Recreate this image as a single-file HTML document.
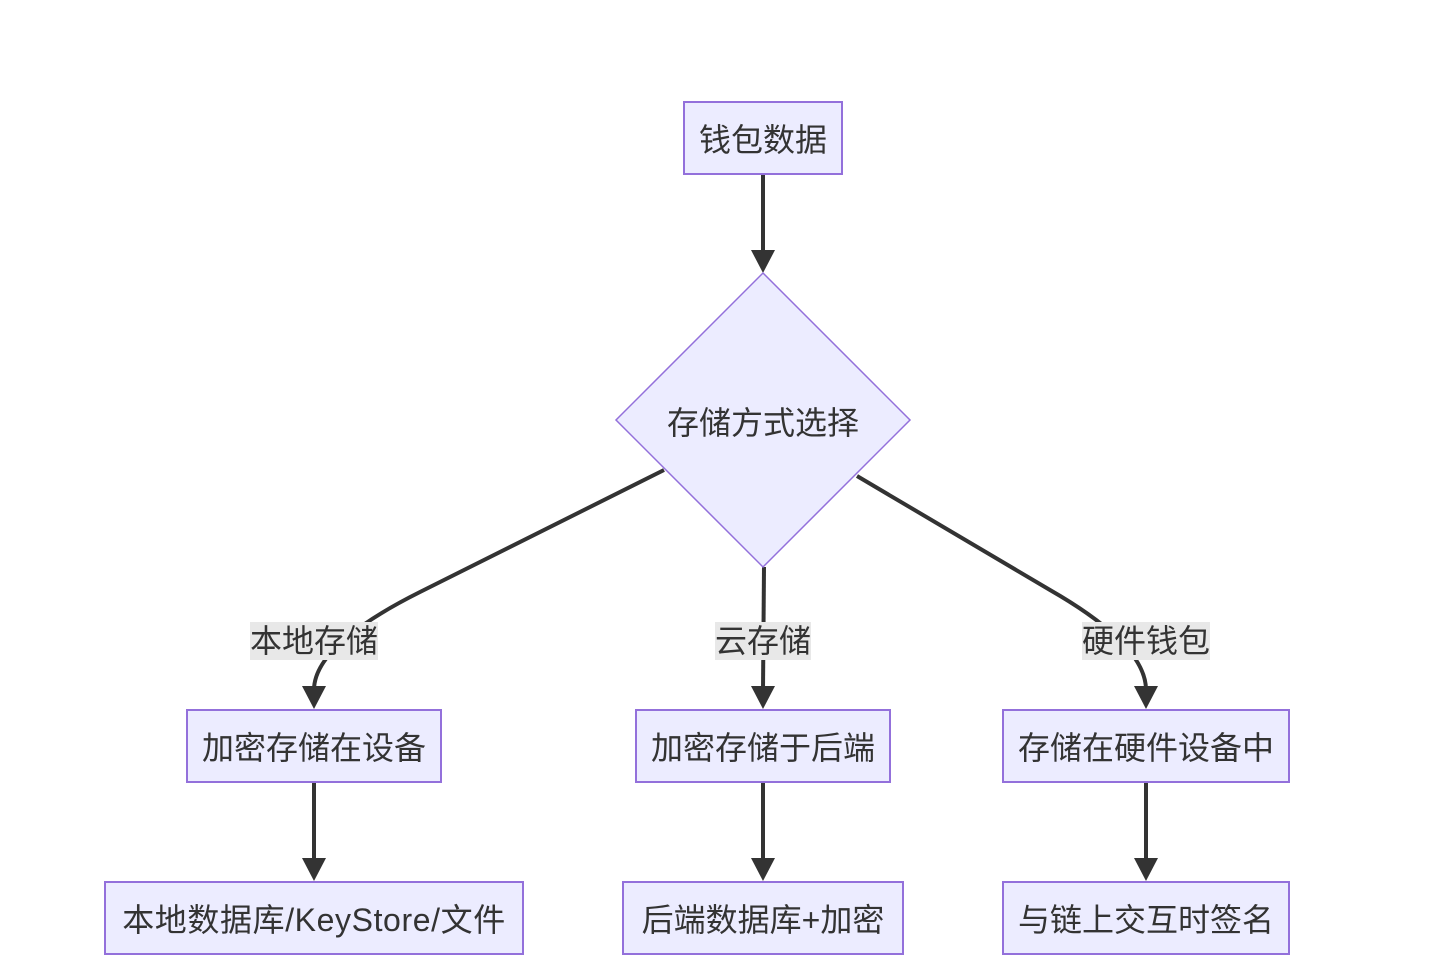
<!DOCTYPE html>
<html>
<head>
<meta charset="utf-8">
<style>
  html, body { margin: 0; padding: 0; background: #ffffff; }
  body { width: 1434px; height: 968px; overflow: hidden; }
  svg { display: block; }
  text { font-family: "Liberation Sans", "Noto Sans CJK SC", sans-serif; font-size: 32px; fill: #333333; }
</style>
</head>
<body>
<svg width="1434" height="968" viewBox="0 0 1434 968" xmlns="http://www.w3.org/2000/svg">
  <!-- edges -->
  <g fill="none" stroke="#333333" stroke-width="4">
    <line x1="763" y1="174" x2="763" y2="254"/>
    <path d="M664,470 L420,592 Q314,645 314,690"/>
    <path d="M764,567 L763,690"/>
    <path d="M857,476 L1050,590 Q1146,645 1146,690"/>
    <line x1="314" y1="782" x2="314" y2="862"/>
    <line x1="763" y1="782" x2="763" y2="862"/>
    <line x1="1146" y1="782" x2="1146" y2="862"/>
  </g>
  <!-- arrowheads -->
  <g fill="#333333">
    <polygon points="751,250 775,250 763,273"/>
    <polygon points="302,686 326,686 314,709"/>
    <polygon points="751,686 775,686 763,709"/>
    <polygon points="1134,686 1158,686 1146,709"/>
    <polygon points="302,858 326,858 314,881"/>
    <polygon points="751,858 775,858 763,881"/>
    <polygon points="1134,858 1158,858 1146,881"/>
  </g>

  <!-- nodes -->
  <g fill="#ECECFF" stroke="#9370DB" stroke-width="2">
    <rect x="684" y="102" width="158" height="72"/>
    <polygon points="763,273 910,420 763,567 616,420" stroke-width="1.5"/>
    <rect x="187" y="710" width="254" height="72"/>
    <rect x="636" y="710" width="254" height="72"/>
    <rect x="1003" y="710" width="286" height="72"/>
    <rect x="105" y="882" width="418" height="72"/>
    <rect x="623" y="882" width="280" height="72"/>
    <rect x="1003" y="882" width="286" height="72"/>
  </g>

  <!-- edge label backgrounds -->
  <g fill="#E8E8E8">
    <rect x="250" y="622" width="128" height="38"/>
    <rect x="715" y="622" width="96" height="38"/>
    <rect x="1082" y="622" width="128" height="38"/>
  </g>

  <!-- texts -->
  <g text-anchor="middle" dominant-baseline="central">
    <text x="763" y="140">钱包数据</text>
    <text x="763" y="423">存储方式选择</text>
    <text x="314" y="641">本地存储</text>
    <text x="763" y="641">云存储</text>
    <text x="1146" y="641">硬件钱包</text>
    <text x="314" y="748">加密存储在设备</text>
    <text x="763" y="748">加密存储于后端</text>
    <text x="1146" y="748">存储在硬件设备中</text>
    <text x="314" y="920" style="letter-spacing:0.6px">本地数据库/KeyStore/文件</text>
    <text x="763" y="920">后端数据库+加密</text>
    <text x="1146" y="920">与链上交互时签名</text>
  </g>
</svg>
</body>
</html>
